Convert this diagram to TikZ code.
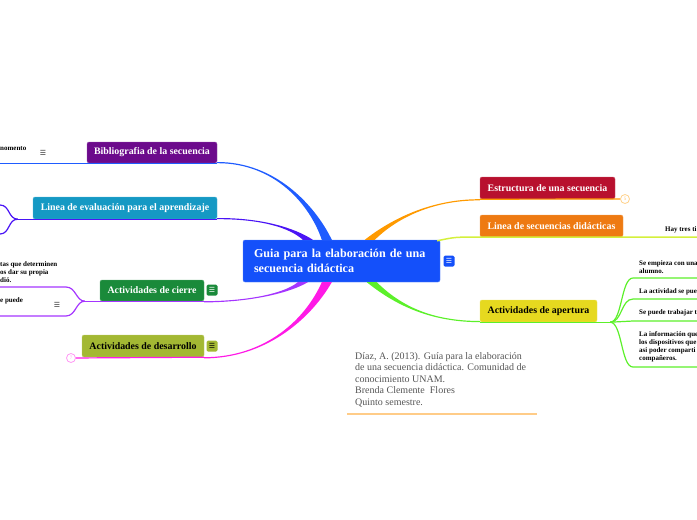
\documentclass[tikz,border=0pt]{standalone}
\usepackage{fontspec}
\setmainfont{Liberation Serif}
\newfontfamily\symb{DejaVu Sans}
\usetikzlibrary{calc, positioning}
\definecolor{guiablue}{HTML}{1450FA}
\definecolor{bibpurple}{HTML}{6C0A8C}
\definecolor{evalteal}{HTML}{1599C4}
\definecolor{cierregreen}{HTML}{1A8A3A}
\definecolor{desolive}{HTML}{A3B833}
\definecolor{estcrimson}{HTML}{B8102E}
\definecolor{secorange}{HTML}{EE7A12}
\definecolor{apyellow}{HTML}{E6D91F}
\definecolor{linkbib}{HTML}{1F5CFF}
\definecolor{linkeval}{HTML}{4A14F5}
\definecolor{linkcierre}{HTML}{A535FF}
\definecolor{linkdes}{HTML}{FF1AE6}
\definecolor{linkest}{HTML}{FF9A00}
\definecolor{linksec}{HTML}{D4F03C}
\definecolor{linkap}{HTML}{5CF02A}
\definecolor{citegray}{HTML}{555555}
\definecolor{citeline}{HTML}{FFCC88}
\tikzset{
  mapblock/.style={rectangle, rounded corners=2pt, minimum height=21pt,
                   inner sep=0pt, align=center, text=white,
                   font=\bfseries\fontsize{9.9}{11}\selectfont},
  mapmain/.style={mapblock, fill=guiablue, draw=guiablue!70!white, align=left,
                  font=\bfseries\fontsize{12.1}{14.5}\selectfont},
  mapicon/.style={rectangle, rounded corners=1.5pt, minimum size=11pt, inner sep=0pt,
                  text=white, font=\symb\fontsize{7}{7}\selectfont},
  mapnote/.style={anchor=west, align=left, inner sep=0pt,
                  font=\bfseries\fontsize{7}{8}\selectfont},
  mapcount/.style={circle, draw, fill=white, minimum size=9pt, inner sep=0pt,
                   line width=0.8pt, font=\fontsize{5}{5}\selectfont},
  mapline/.style={line width=1.2pt},
}
% rama que se ensancha hacia el nodo central
\newcommand{\ramal}[6]{%
  \fill[#1] (#2) .. controls (#3) and (#4) .. ($(#5)+(-5,0)$)
    -- ($(#5)+(5,0)$) .. controls ($(#4)+(5,0)$) and ($(#3)+(#6)$) .. ($(#2)+(#6)$) -- cycle;}
\begin{document}
\begin{tikzpicture}[x=1pt, y=-1pt]
  \useasboundingbox (0,0) rectangle (697,520);
  \coordinate (izq) at (0,0);
  \coordinate (borde) at (697,0);

  % Nodo central
  \node[mapmain, minimum width=197pt, minimum height=42pt, text width=175pt] (guia) at (341.5,261)
    {Guia para la elaboración de una\\secuencia didáctica};
  \node[mapicon, fill=guiablue] (guiaicon) at (449,261) {☰};

  % Ramas izquierdas
  \node[mapblock, fill=bibpurple, draw=bibpurple!70!white, minimum width=130pt] (bib) at (152,152.5)
    {Bibliografia de la secuencia};
  \node[mapblock, fill=evalteal, draw=evalteal!70!white, minimum width=184pt, minimum height=22pt] (eval) at (125,208)
    {Linea de evaluación para el aprendizaje};
  \node[mapblock, fill=cierregreen, draw=cierregreen!70!white, minimum width=104pt] (cierre) at (152,290.5)
    {Actividades de cierre};
  \node[mapicon, fill=cierregreen] (cierreicon) at (212,290) {☰};
  \node[mapblock, fill=desolive, draw=desolive!70!white, text=black, minimum width=122pt, minimum height=22pt] (des) at (143,346)
    {Actividades de desarrollo};
  \node[mapicon, fill=desolive, text=black] (desicon) at (212,346) {☰};

  % Ramas derechas
  \node[mapblock, fill=estcrimson, draw=estcrimson!70!white, minimum width=135pt, minimum height=22pt] (est) at (547.5,188)
    {Estructura de una secuencia};
  \node[mapblock, fill=secorange, draw=secorange!70!white, minimum width=143pt, minimum height=22pt] (sec) at (551.5,226)
    {Linea de secuencias didácticas};
  \node[mapblock, fill=apyellow, draw=apyellow!70!white, text=black, minimum width=117pt, minimum height=22pt] (ap) at (538.5,311)
    {Actividades de apertura};

  % Textos recortados en los bordes
  \node[mapnote] (bibnota) at (0,149) {nomento};
  \node[mapicon, text=black!80] (bibicon) at (43,153) {☰};
  \node[mapnote] (cierrenota) at (0,272) {tas que determinen\\os dar su propia\\dió.};
  \node[mapnote] (cierrenotab) at (0,301) {e puede};
  \node[mapicon, text=black!80] (cierreiconb) at (57,305) {☰};
  \node[mapnote] (secnota) at (665,230) {Hay tres ti};
  \node[mapnote] (apnotaa) at (639,267.5) {Se empieza con una\\alumno.};
  \node[mapnote] (apnotab) at (639,292) {La actividad se pue};
  \node[mapnote] (apnotac) at (639,313) {Se puede trabajar t};
  \node[mapnote] (apnotad) at (639,347) {La información que\\los dispositivos que\\asi poder comparti\\compañeros.};

  % Contadores
  \node[mapcount, draw=linkdes!45, text=linkdes!45] (descount) at (71,358) {7};
  \node[mapcount, draw=linkest!45, text=linkest!60] (estcount) at (625,199) {5};

  % Referencia
  \node[anchor=north west, align=left, inner sep=0pt, text=citegray,
        font=\fontsize{10}{11.5}\selectfont] (cita) at (355,352)
    {Díaz, A. (2013). Guía para la elaboración\\de una secuencia didáctica. Comunidad de\\conocimiento UNAM.\\Brenda Clemente\ \ Flores\\Quinto semestre.};
  \draw[citeline, line width=1.5pt] (347,414) -- (537,414);

  % Conexiones al nodo central
  \coordinate (gbib) at ($(guia.north west)+(84,0)$);
  \coordinate (geval) at ($(guia.north west)+(65,0)$);
  \coordinate (gcierre) at ($(guia.south west)+(60,0)$);
  \coordinate (gdes) at ($(guia.south west)+(84,0)$);
  \coordinate (gest) at ($(guia.north west)+(127,0)$);
  \coordinate (gap) at ($(guia.south west)+(129,0)$);
  \ramal{linkbib}{bib.south east}{275,163}{310,205}{gbib}{0,-1.2}
  \ramal{linkeval}{eval.south east}{262,219}{290,228}{geval}{0,-1.2}
  \ramal{linkcierre}{cierre.south east}{250,301}{285,293}{gcierre}{0,1.2}
  \ramal{linkdes}{des.south east}{265,357}{305,320}{gdes}{0,1.2}
  \ramal{linkest}{est.south west}{430,199}{390,220}{gest}{0,1.2}
  \ramal{linkap}{ap.south west}{430,322}{395,305}{gap}{0,-1.2}
  \draw[linksec, line width=1.5pt] ($(guia.north east)+(-3,1)$) .. controls (455,237) .. (sec.south west)
    -- (sec.south -| borde);

  % Subrayados y subramas
  \draw[linkbib, mapline] (bib.south -| izq) -- (bib.south east);
  \coordinate (evalj) at ($(eval.south west)+(-15,0)$);
  \draw[linkeval, mapline] (evalj) -- (eval.south east);
  \draw[linkeval, mapline] (evalj) .. controls (8,219) and (10,205) .. (0,205);
  \draw[linkeval, mapline] (evalj) .. controls (8,219) and (10,234) .. (0,234);
  \coordinate (cierrej) at ($(cierre.south west)+(-15,0)$);
  \draw[linkcierre, mapline] (cierrej) -- (cierre.south east);
  \draw[linkcierre, mapline] (cierrej) .. controls (76,301) and (76,287) .. (66,287) -- (0,287);
  \draw[linkcierre, mapline] (cierrej) .. controls (76,301) and (76,316) .. (66,316) -- (0,316);
  \draw[linkdes, mapline] (descount) -- (des.south east);
  \draw[linkest, mapline] (est.south west) -- (estcount);
  \coordinate (apj) at ($(ap.south east)+(13,0)$);
  \draw[linkap, mapline] (ap.south west) -- (apj);
  \foreach \y [count=\i] in {278,299,321,367} {
    \coordinate (apfin\i) at (697,\y);
    \draw[linkap, mapline] (apj) .. controls +(12,0) and +(-12,0) .. (633,\y) -- (apfin\i);
  }
\end{tikzpicture}
\end{document}
